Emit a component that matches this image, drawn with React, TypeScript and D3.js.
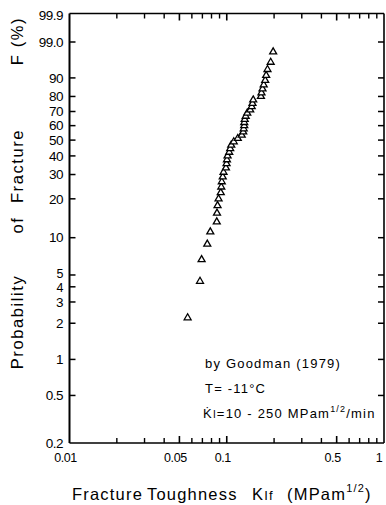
import React from "react";
import * as d3 from "d3";

// Fracture toughness KIf (MPa m^1/2) of each specimen, sorted
const toughness = [
  0.0564, 0.0676, 0.0692, 0.0752, 0.0786, 0.0864, 0.0867, 0.0874, 0.0887, 0.0916,
  0.0923, 0.093, 0.0943, 0.0954, 0.0988, 0.0997, 0.1003, 0.1012, 0.1037, 0.1052,
  0.1068, 0.1108, 0.1175, 0.1245, 0.1273, 0.1282, 0.1292, 0.1292, 0.1301, 0.132,
  0.135, 0.141, 0.1441, 0.1458, 0.1473, 0.1649, 0.1663, 0.1688, 0.1718, 0.1756,
  0.1781, 0.1816, 0.1903, 0.1973,
];
// Probability of fracture F (%)
const probability = [
  2.22, 4.44, 6.67, 8.89, 11.11, 13.33, 15.56, 17.78, 20.0, 22.22,
  24.44, 26.67, 28.89, 31.11, 33.33, 35.56, 37.78, 40.0, 42.22, 44.44,
  46.67, 48.89, 51.11, 53.33, 55.56, 57.78, 60.0, 62.22, 64.44, 66.67,
  68.89, 71.11, 73.33, 75.56, 77.78, 80.0, 82.22, 84.44, 86.67, 88.89,
  91.11, 93.33, 95.56, 97.78,
];

const yTickValues = [99.9, 99.0, 90, 80, 70, 60, 50, 40, 30, 20, 10, 5, 4, 3, 2, 1, 0.5, 0.2];
const yTickLabels = ["99.9", "99.0", "90", "80", "70", "60", "50", "40", "30", "20", "10", "5", "4", "3", "2", "1", "0.5", "0.2"];
const xTickValues = [0.01, 0.05, 0.1, 0.5, 1];
const xTickLabels = ["0.01", "0.05", "0.1", "0.5", "1"];
const xMinorTicks = [0.02, 0.03, 0.04, 0.06, 0.07, 0.08, 0.09, 0.2, 0.3, 0.4, 0.6, 0.7, 0.8, 0.9];

const weib = (p: number) => Math.log(-Math.log(1 - p / 100));

const L = 69.5, R = 384, T = 13.5, B = 443;
const FONT = "'Liberation Sans', Arial, sans-serif";

export default function App() {
  const x = d3.scaleLog().domain([0.01, 1]).range([L, R]);
  const y = d3
    .scaleLinear()
    .domain([weib(0.2), weib(99), weib(99.9)])
    .range([B, 42, T]);
  const tri = d3.symbol().type(d3.symbolTriangle).size(21)() as string;
  const pts = toughness.map((k, i) => ({ k, f: probability[i] }));

  const yTitle = [
    { t: "Probability", c: 322 },
    { t: "of", c: 225 },
    { t: "Fracture", c: 166 },
    { t: "F (%)", c: 41 },
  ];

  const labelNudge = (v: number) => (v === 99.9 ? 2 : v === 5 ? -1.5 : v === 4 ? 1 : 0);

  return (
    <svg
      width={386}
      height={505}
      style={{ position: "absolute", left: 0, top: 0, background: "#fff" }}
      fontFamily={FONT}
    >
      <rect x={0} y={0} width={386} height={505} fill="#fff" />
      {/* frame */}
      <line x1={L} y1={T} x2={L} y2={B} stroke="#000" strokeWidth={2} />
      <line x1={L} y1={B} x2={R} y2={B} stroke="#000" strokeWidth={1.6} />
      <line x1={L} y1={T} x2={R} y2={T} stroke="#000" strokeWidth={1.6} />
      <line x1={R} y1={T} x2={R} y2={B} stroke="#000" strokeWidth={1.6} />

      {/* y ticks */}
      {yTickValues.map((v, i) => (
        <g key={"y" + i}>
          {i > 0 && i < yTickValues.length - 1 && (
            <>
              <line x1={L} x2={L + 6} y1={y(weib(v))} y2={y(weib(v))} stroke="#000" strokeWidth={1.5} />
              <line x1={R} x2={R - 6} y1={y(weib(v))} y2={y(weib(v))} stroke="#000" strokeWidth={1.5} />
            </>
          )}
          <text
            x={63}
            y={y(weib(v)) + labelNudge(v)}
            dy="0.35em"
            textAnchor="end"
            fontSize={v === 5 || v === 4 ? 12.5 : 13.5}
            letterSpacing={-0.5}
          >
            {yTickLabels[i]}
          </text>
        </g>
      ))}

      {/* x ticks */}
      {xMinorTicks.map((v, i) => (
        <g key={"xm" + i}>
          <line x1={x(v)} x2={x(v)} y1={T} y2={T + 5} stroke="#000" strokeWidth={1.4} />
          <line x1={x(v)} x2={x(v)} y1={B} y2={B - 5} stroke="#000" strokeWidth={1.4} />
        </g>
      ))}
      {xTickValues.map((v, i) => (
        <g key={"x" + i}>
          {i > 0 && i < xTickValues.length - 1 && (
            <>
              <line x1={x(v)} x2={x(v)} y1={T} y2={T + 7} stroke="#000" strokeWidth={1.6} />
              <line x1={x(v)} x2={x(v)} y1={B} y2={B - 7} stroke="#000" strokeWidth={1.6} />
            </>
          )}
          <text
            x={x(v) - (i === xTickValues.length - 1 ? 5 : 4)}
            y={462}
            textAnchor="middle"
            fontSize={12.5}
            letterSpacing={-0.4}
          >
            {xTickLabels[i]}
          </text>
        </g>
      ))}

      {/* data */}
      {pts.map((p, i) => (
        <path
          key={"p" + i}
          d={tri}
          transform={`translate(${x(p.k)},${y(weib(p.f))})`}
          fill="#fff"
          stroke="#000"
          strokeWidth={1.3}
        />
      ))}

      {/* annotations */}
      <g fontSize={13} letterSpacing={1.2}>
        <text x={205} y={368}>by  Goodman (1979)</text>
        <text x={205} y={393}>T= -11°C</text>
        <text x={203} y={418}>
          {"K\u0307"}
          <tspan fontSize={10}>I</tspan>
          {"=10 - 250  MPam"}
          <tspan fontSize={9} dy={-6}>1/2</tspan>
          <tspan dy={6}>/min</tspan>
        </text>
      </g>

      {/* y title */}
      {yTitle.map((s, i) => (
        <text
          key={"yt" + i}
          transform={`translate(23,${s.c}) rotate(-90)`}
          textAnchor="middle"
          fontSize={16.5}
          letterSpacing={1.6}
        >
          {s.t}
        </text>
      ))}

      {/* x title */}
      <text y={500} fontSize={16.5} letterSpacing={1.2}>
        <tspan x={72}>Fracture</tspan>
        <tspan x={147}>Toughness</tspan>
        <tspan x={252}>K</tspan>
        <tspan fontSize={13}>If</tspan>
        <tspan x={287}>(MPam</tspan>
        <tspan fontSize={11} dy={-8}>1/2</tspan>
        <tspan dy={8}>)</tspan>
      </text>
    </svg>
  );
}
